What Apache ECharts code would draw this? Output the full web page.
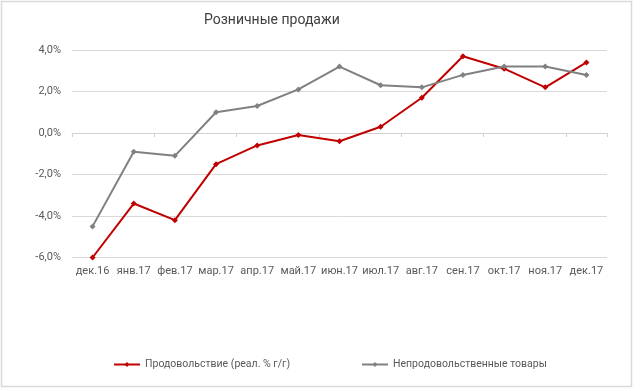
<!DOCTYPE html>
<html><head><meta charset="utf-8">
<script src="https://cdn.jsdelivr.net/npm/echarts@6/dist/echarts.min.js"></script>
<style>html,body{margin:0;padding:0;background:#fff}#c{width:640px;height:391px}</style>
</head><body><div id="c"></div>
<script>
const categories = ['дек.16','янв.17','фев.17','мар.17','апр.17','май.17','июн.17','июл.17','авг.17','сен.17','окт.17','ноя.17','дек.17'];
const food = [-6.0,-3.4,-4.2,-1.5,-0.6,-0.1,-0.4,0.3,1.7,3.7,3.1,2.2,3.4];
const nonFood = [-4.5,-0.9,-1.1,1.0,1.3,2.1,3.2,2.3,2.2,2.8,3.2,3.2,2.8];
const seriesNames = ['Продовольствие (реал. % г/г)','Непродовольственные товары'];
const titleText = 'Розничные продажи';
const yTicks = {min:-6, max:4, interval:2};

const FONT = 'Roboto, "Open Sans", sans-serif';
const chart = echarts.init(document.getElementById('c'), null, {renderer:'canvas'});
chart.setOption({
  animation:false,
  backgroundColor:'#fff',
  graphic:[{type:'rect', shape:{x:1.5,y:1.5,width:630,height:385}, style:{fill:'none', stroke:'#d9d9d9', lineWidth:1.5}, silent:true}],
  title:{text:titleText, left:199, top:8, textStyle:{fontFamily:FONT, fontSize:14, fontWeight:'normal', color:'#404040'}},
  legend:[
    {data:[seriesNames[0]], left:108, top:354, itemWidth:26, itemHeight:6, textStyle:{fontFamily:FONT, fontSize:10.5, color:'#595959'}},
    {data:[seriesNames[1]], left:356, top:354, itemWidth:26, itemHeight:6, textStyle:{fontFamily:FONT, fontSize:10.5, color:'#595959'}}
  ],
  grid:{left:72, right:33, top:50, bottom:133.5},
  xAxis:[
    {type:'category', data:categories, boundaryGap:true, position:'bottom',
     axisLine:{show:false, onZero:false}, axisTick:{show:false},
     axisLabel:{fontFamily:FONT, fontSize:11, color:'#595959', margin:8, interval:0}},
    {type:'category', data:categories, boundaryGap:true, position:'bottom',
     axisLine:{show:true, onZero:true, lineStyle:{color:'#d0d0d0', width:1}},
     axisTick:{show:true, length:4, lineStyle:{color:'#d0d0d0'}, alignWithLabel:false},
     axisLabel:{show:false}}
  ],
  yAxis:{type:'value', min:yTicks.min, max:yTicks.max, interval:yTicks.interval,
    axisLine:{show:false}, axisTick:{show:false},
    splitLine:{lineStyle:{color:'#d9d9d9', width:1}},
    axisLabel:{fontFamily:FONT, fontSize:11, color:'#595959', margin:11,
      formatter:v=>v.toFixed(1).replace('.',',')+'%'}},
  series:[
    {name:seriesNames[0], type:'line', data:food, xAxisIndex:0, symbol:'diamond', symbolSize:6,
     lineStyle:{color:'#c00000', width:2}, itemStyle:{color:'#c00000'}},
    {name:seriesNames[1], type:'line', data:nonFood, xAxisIndex:0, symbol:'diamond', symbolSize:6,
     lineStyle:{color:'#808080', width:2}, itemStyle:{color:'#808080'}}
  ]
});
</script></body></html>
